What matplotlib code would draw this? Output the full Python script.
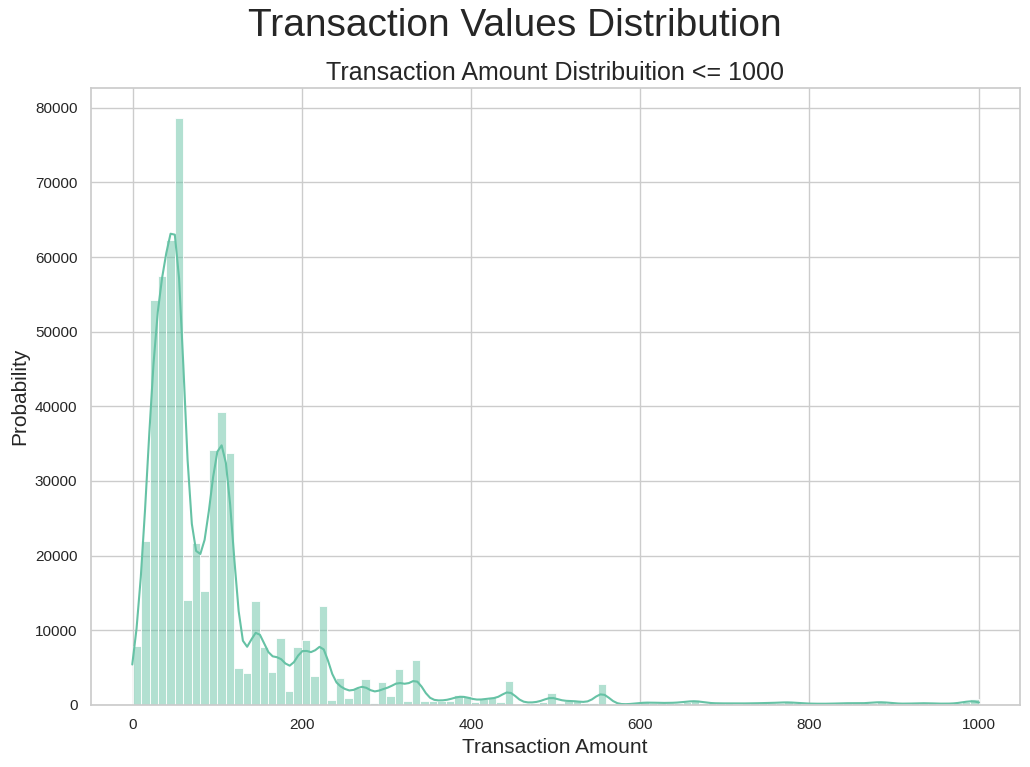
import matplotlib

matplotlib.use("Agg")
import matplotlib.pyplot as plt
import numpy as np
import pandas as pd
import seaborn as sns

# Histogram counts per 10-unit bin (0 .. 1000)
bin_width = 10
counts = [
    7900, 22000, 54300, 57500, 62300, 78700, 14100, 21700, 15300, 34100,
    39200, 33700, 4900, 4250, 13900, 7800, 4450, 9000, 1900, 7700,
    8700, 3900, 13200, 700, 3600, 950, 2200, 3500, 310, 3100,
    1250, 4800, 540, 6000, 540, 560, 580, 560, 1340, 1150,
    450, 760, 1030, 450, 3250, 100, 310, 310, 360, 1600,
    310, 580, 540, 220, 310, 2850, 120, 60, 50, 200,
    350, 300, 250, 250, 300, 400, 650, 300, 200, 200,
    200, 180, 200, 200, 250, 250, 300, 400, 250, 180,
    150, 150, 150, 200, 250, 200, 200, 300, 450, 250,
    150, 150, 200, 250, 200, 150, 150, 200, 400, 750,
]

bin_edges = np.linspace(0, bin_width * len(counts), len(counts) + 1)
df = pd.DataFrame({
    "amount": (bin_edges[:-1] + bin_edges[1:]) / 2,
    "count": counts,
})

sns.set_theme(style="whitegrid")
plt.rcParams["font.family"] = ["Liberation Sans", "DejaVu Sans"]

fig = plt.figure(figsize=(10.3, 7.67), dpi=100)
ax = fig.add_axes([0.088, 0.081, 0.902, 0.804])

sns.histplot(
    data=df,
    x="amount",
    weights="count",
    binwidth=bin_width,
    binrange=(bin_edges[0], bin_edges[-1]),
    kde=True,
    kde_kws={"bw_method": 0.062, "cut": 0.3},
    color="#66c2a5",
    alpha=0.5,
    ax=ax,
)
ax.set_xlim(-49.6, 1048.5)

fig.suptitle("Transaction Values Distribution", fontsize=28, y=0.99)
ax.set_title("Transaction Amount Distribuition <= 1000", fontsize=18)
ax.set_xlabel("Transaction Amount", fontsize=15)
ax.set_ylabel("Probability", fontsize=15)
ax.tick_params(labelsize=11)

fig.savefig("out.png", dpi=100)
